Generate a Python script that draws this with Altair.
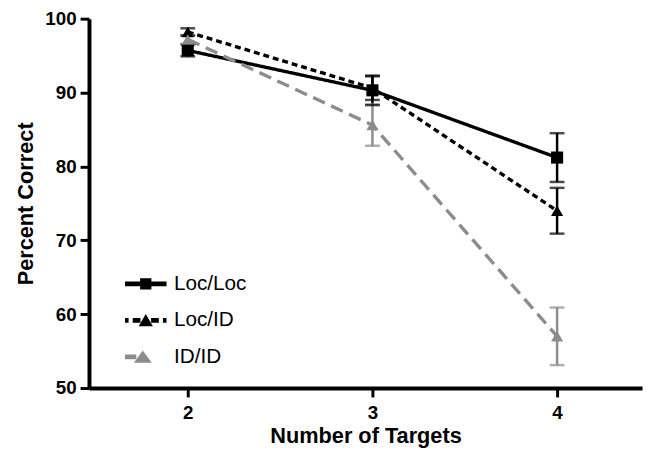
import altair as alt
import pandas as pd

series = ["Loc/Loc", "Loc/ID", "ID/ID"]
targets = [2, 3, 4]
loc_loc = [95.7, 90.3, 81.2]
loc_loc_err = [0.8, 2.0, 3.3]
loc_id = [98.2, 90.6, 74.0]
loc_id_err = [0.5, 1.6, 3.1]
id_id = [97.2, 85.6, 57.0]
id_id_err = [0.6, 2.8, 3.9]

rows = []
for name, vals, errs in [("Loc/Loc", loc_loc, loc_loc_err),
                         ("Loc/ID", loc_id, loc_id_err),
                         ("ID/ID", id_id, id_id_err)]:
    for t, v, e in zip(targets, vals, errs):
        rows.append({"series": name, "targets": t, "pct": v, "lo": v - e, "hi": v + e})
df = pd.DataFrame(rows)

FONT = "Liberation Sans"
colors = ["#000000", "#000000", "#8c8c8c"]

x_enc = alt.X("targets:Q", scale=alt.Scale(domain=[1.465, 4.46], nice=False, zero=False),
              axis=alt.Axis(values=targets, format="d", title="Number of Targets", grid=False,
                            domainWidth=4, domainColor="black", tickWidth=3, tickSize=9,
                            tickColor="black", labelFontSize=19, labelFontWeight="bold",
                            labelColor="black", labelFont=FONT, labelPadding=7,
                            titleFont=FONT, titleFontSize=22, titleFontWeight="bold",
                            titleColor="black", titlePadding=3))
y_scale = alt.Scale(domain=[50, 100], nice=False, zero=False)
y_axis = alt.Axis(values=[50, 60, 70, 80, 90, 100], title="Percent Correct", grid=False,
                  domainWidth=4, domainColor="black", tickWidth=3, tickSize=9,
                  tickColor="black", labelFontSize=19, labelFontWeight="bold",
                  labelColor="black", labelFont=FONT, labelPadding=4,
                  titleFont=FONT, titleFontSize=22, titleFontWeight="bold",
                  titleColor="black", titlePadding=7)
y_enc = alt.Y("pct:Q", scale=y_scale, axis=y_axis)

# legend symbols: line segment + marker as custom paths
sq = "M-0.95,-0.95H0.95V0.95H-0.95Z"
tri = "M0,-1.1L1.2,1H-1.2Z"
legend_paths = [
    "M-3.5,-0.4H3.5V0.4H-3.5Z " + sq,
    "M-3.5,-0.4H-2.9V0.4H-3.5Z M-2.2,-0.4H-0.9V0.4H-2.2Z M0.9,-0.4H2.2V0.4H0.9Z M2.9,-0.4H3.5V0.4H2.9Z " + tri,
    "M-3.5,-0.4H-1.6V0.4H-3.5Z M-0.5,-1.1L1.0,1H-2.0Z",
]
legend_opts = alt.Legend(orient="none", legendX=47, legendY=258, title=None,
                         labelFont=FONT, labelFontSize=21, labelColor="black",
                         symbolOpacity=1, symbolSize=144, symbolStrokeWidth=0,
                         symbolDash=[1, 0], labelOffset=18, rowPadding=15)

color_scale = alt.Scale(domain=series, range=colors)
color_enc = alt.Color("series:N", scale=color_scale, legend=legend_opts)
dash_enc = alt.StrokeDash("series:N", scale=alt.Scale(domain=series, range=[[1, 0], [6, 4], [13, 7]]),
                          legend=legend_opts)

base = alt.Chart(df)

err_rule = base.mark_rule(strokeWidth=2.5).encode(
    x="targets:Q", y=alt.Y("lo:Q", scale=y_scale), y2="hi:Q", color=color_enc)
cap_hi = base.mark_tick(orient="horizontal", size=15, thickness=2.5).encode(
    x="targets:Q", y=alt.Y("hi:Q", scale=y_scale), color=color_enc)
cap_lo = base.mark_tick(orient="horizontal", size=15, thickness=2.5).encode(
    x="targets:Q", y=alt.Y("lo:Q", scale=y_scale), color=color_enc)

lines = base.mark_line(strokeWidth=3.4).encode(
    x=x_enc, y=y_enc, color=color_enc, strokeDash=dash_enc, detail="series:N")

points = base.mark_point(filled=True, size=150, opacity=1).encode(
    x="targets:Q", y=alt.Y("pct:Q", scale=y_scale),
    color=color_enc,
    shape=alt.condition(alt.datum.series == "Loc/Loc", alt.value("square"), alt.value("triangle-up")))

legend_layer = base.mark_point(filled=True, size=144, opacity=0, strokeWidth=0).encode(
    x="targets:Q", y=alt.Y("pct:Q", scale=y_scale),
    color=color_enc,
    shape=alt.Shape("series:N", scale=alt.Scale(domain=series, range=legend_paths),
                    legend=legend_opts))

chart = alt.layer(lines, err_rule, cap_hi, cap_lo, points, legend_layer).properties(
    width=560, height=374,
    autosize=alt.AutoSizeParams(type="none"),
    padding={"left": 82, "top": 8, "right": 3, "bottom": 67},
).configure_view(stroke=None)

chart.save("out.html", embed_options={"renderer": "svg", "actions": False})
